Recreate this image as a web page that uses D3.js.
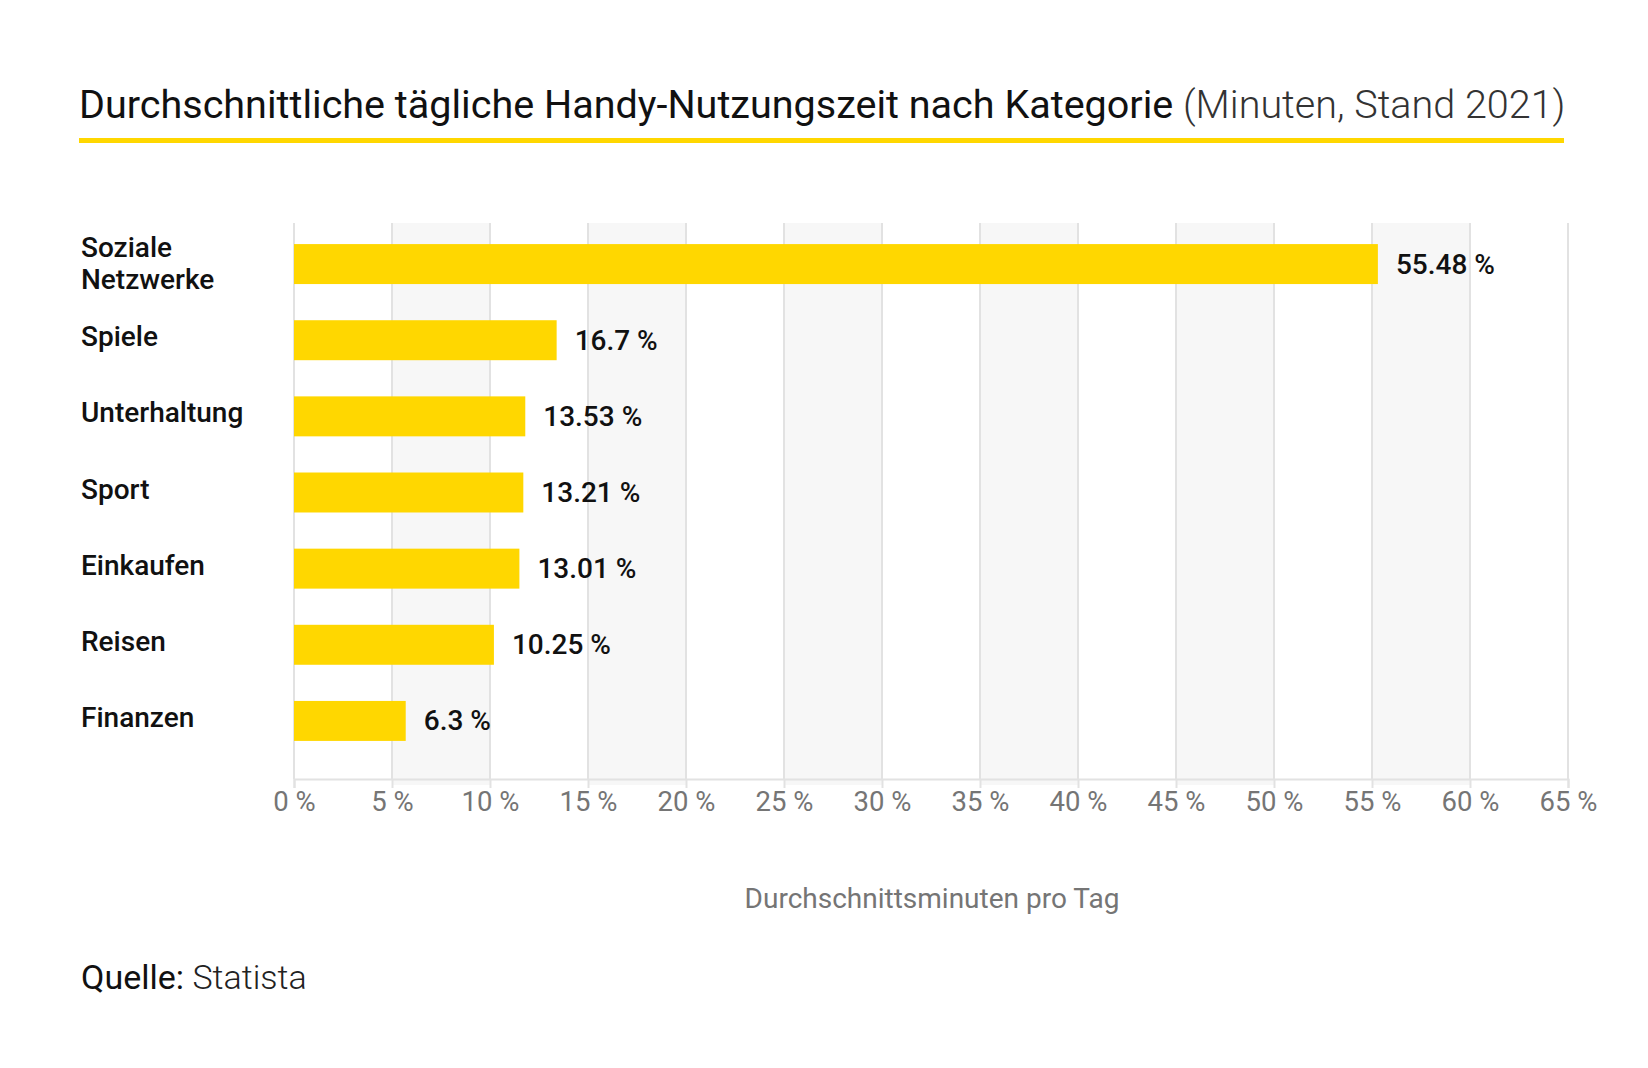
<!DOCTYPE html>
<html>
<head>
<meta charset="utf-8">
<script src="https://cdn.jsdelivr.net/npm/d3@7"></script>
<style>
  html, body { margin: 0; padding: 0; background: #fff; }
  svg { display: block; font-family: Roboto, "Noto Sans", sans-serif; }
</style>
</head>
<body>
<svg id="chart" width="1648" height="1068"></svg>
<script>
// ---- data ----
const categories = ["Soziale Netzwerke", "Spiele", "Unterhaltung", "Sport", "Einkaufen", "Reisen", "Finanzen"];
const categoryLines = [["Soziale", "Netzwerke"], ["Spiele"], ["Unterhaltung"], ["Sport"], ["Einkaufen"], ["Reisen"], ["Finanzen"]];
const values = [55.3, 13.4, 11.8, 11.7, 11.5, 10.2, 5.7];
const valueLabels = ["55.48 %", "16.7 %", "13.53 %", "13.21 %", "13.01 %", "10.25 %", "6.3 %"];
const tickValues = [0, 5, 10, 15, 20, 25, 30, 35, 40, 45, 50, 55, 60, 65];
const titleMain = "Durchschnittliche tägliche Handy-Nutzungszeit nach Kategorie";
const titleSub = "(Minuten, Stand 2021)";
const axisTitle = "Durchschnittsminuten pro Tag";
const sourceLabel = "Quelle:";
const sourceName = "Statista";

// ---- layout ----
const svg = d3.select("#chart");
const plotLeft = 294, plotRight = 1568, plotTop = 223, axisY = 779;

const x = d3.scaleLinear().domain([0, 65]).range([plotLeft, plotRight]);
const y = d3.scaleBand().domain(categories).range([226, 759]).paddingInner(0.475).paddingOuter(0.2375);

// title
const title = svg.append("text").attr("x", 79).attr("y", 118).attr("font-size", 40).attr("fill", "#111");
title.append("tspan").attr("font-weight", 400).text(titleMain);
title.append("tspan").attr("font-weight", 300).attr("fill", "#333").text(" " + titleSub);
// fit title to reference width
const tw = title.node().getComputedTextLength();
title.attr("font-size", 40 * 1487 / tw);

svg.append("rect").attr("x", 79).attr("y", 138).attr("width", 1485).attr("height", 5).attr("fill", "#FFD700");

// background bands
const bandStarts = tickValues.filter((d, i) => i % 2 === 1 && d < 65);
svg.append("g").selectAll("rect").data(bandStarts).join("rect")
  .attr("x", d => x(d)).attr("width", d => x(d + 5) - x(d))
  .attr("y", plotTop).attr("height", axisY - plotTop + 6)
  .attr("fill", "#f7f7f7");

// gridlines
svg.append("g").selectAll("line").data(tickValues).join("line")
  .attr("x1", d => x(d)).attr("x2", d => x(d))
  .attr("y1", plotTop).attr("y2", axisY)
  .attr("stroke", "#e2e2e2").attr("stroke-width", 2);

// bars
svg.append("g").selectAll("rect").data(categories).join("rect")
  .attr("x", x(0)).attr("y", d => y(d))
  .attr("width", (d, i) => x(values[i]) - x(0))
  .attr("height", y.bandwidth())
  .attr("fill", "#FFD700");

// value labels
svg.append("g").selectAll("text").data(categories).join("text")
  .attr("x", (d, i) => x(values[i]) + 18)
  .attr("y", d => y(d) + y.bandwidth() / 2 + 9.5)
  .attr("font-size", 28).attr("font-weight", 500).attr("fill", "#111")
  .text((d, i) => valueLabels[i]);

// category labels
const cat = svg.append("g").selectAll("text").data(categories).join("text")
  .attr("x", 81)
  .attr("font-size", 28).attr("font-weight", 500).attr("fill", "#111")
  .attr("y", (d, i) => y(d) + y.bandwidth() / 2 + 6 - (categoryLines[i].length - 1) * 13);
cat.selectAll("tspan").data((d, i) => categoryLines[i]).join("tspan")
  .attr("x", 81).attr("dy", (d, j) => j === 0 ? 0 : 32.4).text(d => d);

// x axis
const axis = svg.append("g").attr("transform", `translate(0,${axisY})`)
  .call(d3.axisBottom(x).tickValues(tickValues).tickFormat(d => d + " %").tickSize(9).tickPadding(3));
axis.select(".domain").attr("stroke", "#e2e2e2").attr("stroke-width", 2);
axis.selectAll(".tick line").attr("stroke", "#e2e2e2").attr("stroke-width", 2);
axis.selectAll(".tick text").attr("font-size", 27.5).attr("font-family", "Roboto").attr("font-weight", 400).attr("fill", "#757575");

// axis title
svg.append("text").attr("x", 932).attr("y", 908).attr("text-anchor", "middle")
  .attr("font-size", 28).attr("fill", "#757575").text(axisTitle);

// source
const src = svg.append("text").attr("x", 81).attr("y", 989).attr("font-size", 34).attr("fill", "#111");
src.append("tspan").attr("font-weight", 400).text(sourceLabel + " ");
src.append("tspan").attr("font-weight", 300).attr("fill", "#222").text(sourceName);
</script>
</body>
</html>
